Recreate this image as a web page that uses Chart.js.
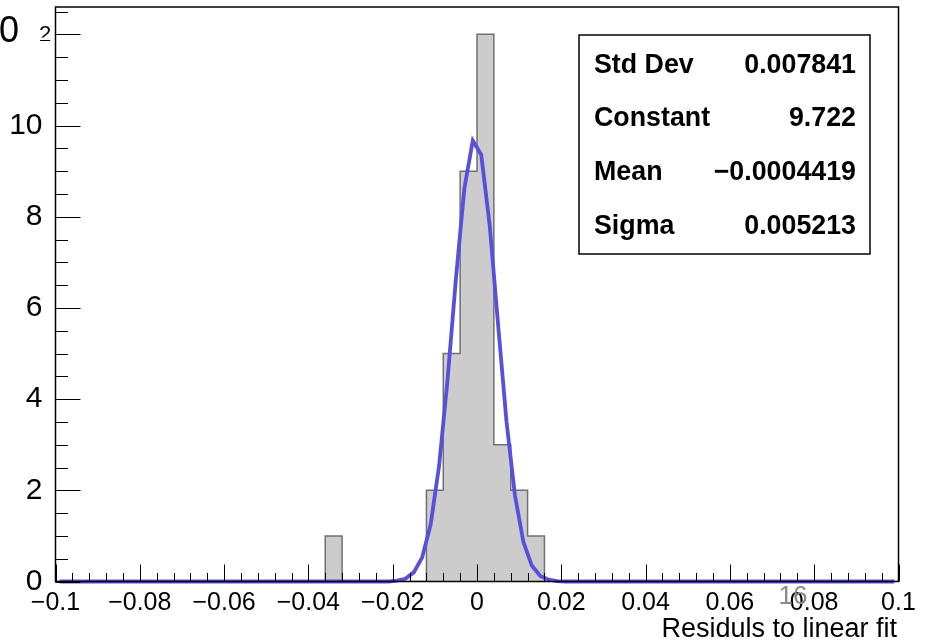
<!DOCTYPE html>
<html>
<head>
<meta charset="utf-8">
<script src="https://cdn.jsdelivr.net/npm/chart.js@4.4.1/dist/chart.umd.min.js"></script>
<style>
  html, body { margin: 0; padding: 0; background: #ffffff; }
  #wrap { width: 940px; height: 640px; position: relative; }
</style>
</head>
<body>
<div id="wrap"><canvas id="c" width="940" height="640"></canvas></div>
<script>
// ---- data ----
const xMin = -0.1, xMax = 0.1, binWidth = 0.004;
const yMin = 0, yMax = 12.6;
// histogram counts, 50 bins from -0.1 to 0.1
const counts = [0,0,0,0,0,0,0,0,0,0, 0,0,0,0,0,0,1,0,0,0, 0,0,2,5,9,12,3,2,1,0, 0,0,0,0,0,0,0,0,0,0, 0,0,0,0,0,0,0,0,0,0];
// gaussian fit curve, as drawn
const fitX = [-0.099,-0.023,-0.021,-0.019,-0.017,-0.015,-0.013,-0.011,-0.009,-0.007,-0.005,-0.003,-0.001,0.001,0.003,0.005,0.007,0.009,0.011,0.013,0.015,0.017,0.019,0.021,0.023,0.099];
const fitY = [0,0.00,0.00,0.02,0.06,0.20,0.53,1.25,2.53,4.41,6.64,8.62,9.67,9.36,7.82,5.64,3.51,1.89,0.87,0.35,0.12,0.04,0.01,0.00,0.00,0];
// tick labels
const xTickValues = [-0.1,-0.08,-0.06,-0.04,-0.02,0,0.02,0.04,0.06,0.08,0.1];
const xTickLabels = ['\u22120.1','\u22120.08','\u22120.06','\u22120.04','\u22120.02','0','0.02','0.04','0.06','0.08','0.1'];
const yTickValues = [0,2,4,6,8,10];
const yTickLabels = ['0','2','4','6','8','10'];
const xMinorStep = 0.004, yMinorStep = 0.5;
// stats box
const statNames = ['Std Dev','Constant','Mean','Sigma'];
const statValues = ['0.007841','9.722','\u22120.0004419','0.005213'];
const xTitle = 'Residuls to linear fit';

// ---- build datasets ----
const histPts = counts.map((c, i) => ({ x: xMin + i * binWidth, y: c }));
histPts.push({ x: xMax, y: 0 });
const fitPts = fitX.map((x, i) => ({ x: x, y: fitY[i] }));

const FONT = '"Liberation Sans", Arial, Helvetica, sans-serif';

const rootPlugin = {
  id: 'rootStyle',
  afterDatasetsDraw(chart) {
    const ctx = chart.ctx, a = chart.chartArea;
    const xs = chart.scales.x, ys = chart.scales.y;
    ctx.save();
    ctx.strokeStyle = '#000';
    ctx.lineWidth = 1;
    const nx = Math.round((xMax - xMin) / xMinorStep);
    for (let i = 0; i <= nx; i++) {
      const v = xMin + i * xMinorStep;
      const major = i % 5 === 0;
      const px = Math.round(xs.getPixelForValue(v)) + 0.5;
      const len = major ? 17 : 8.5;
      ctx.beginPath(); ctx.moveTo(px, a.bottom); ctx.lineTo(px, a.bottom - len); ctx.stroke();
    }
    const ny = Math.floor((yMax - yMin) / yMinorStep + 1e-9);
    for (let i = 0; i <= ny; i++) {
      const v = yMin + i * yMinorStep;
      const major = i % 4 === 0;
      const py = Math.round(ys.getPixelForValue(v)) + 0.5;
      const len = major ? 25 : 12.5;
      ctx.beginPath(); ctx.moveTo(a.left, py); ctx.lineTo(a.left + len, py); ctx.stroke();
    }
    ctx.lineWidth = 1.5;
    ctx.strokeRect(a.left, a.top, a.right - a.left, a.bottom - a.top);
    ctx.restore();
  },
  afterDraw(chart) {
    const ctx = chart.ctx;
    ctx.save();
    const bx = 579, by = 35, bw = 291, bh = 219;
    ctx.fillStyle = '#fff';
    ctx.fillRect(bx, by, bw, bh);
    ctx.strokeStyle = '#000';
    ctx.lineWidth = 1.5;
    ctx.strokeRect(bx, by, bw, bh);
    ctx.fillStyle = '#000';
    ctx.font = 'bold 26.8px ' + FONT;
    ctx.textBaseline = 'middle';
    const rowY = [66, 119, 173, 227];
    statNames.forEach((n, i) => {
      ctx.textAlign = 'left';
      ctx.fillText(n, 594, rowY[i]);
      ctx.textAlign = 'right';
      ctx.fillText(statValues[i], 856, rowY[i]);
    });
    ctx.font = '27px ' + FONT;
    ctx.textAlign = 'right';
    ctx.textBaseline = 'alphabetic';
    ctx.fillText(xTitle, 897, 637);
    ctx.fillStyle = '#8a8a8a';
    ctx.font = '26px ' + FONT;
    ctx.textAlign = 'center';
    ctx.textBaseline = 'middle';
    ctx.fillText('16', 793, 597);
    ctx.fillStyle = '#000';
    ctx.font = '36px ' + FONT;
    ctx.textAlign = 'left';
    ctx.fillText('0', -1, 32);
    ctx.font = '22px ' + FONT;
    ctx.fillText('2', 39, 35);
    ctx.fillStyle = '#fff';
    ctx.fillRect(38, 37.5, 12, 2.5);
    ctx.restore();
  }
};

new Chart(document.getElementById('c'), {
  type: 'scatter',
  data: {
    datasets: [
      {
        label: 'fit',
        data: fitPts,
        showLine: true,
        borderColor: '#5850dc',
        borderWidth: 3.8,
        pointRadius: 0,
        tension: 0,
        fill: false,
        clip: false,
        order: 0
      },
      {
        label: 'hist',
        data: histPts,
        showLine: true,
        stepped: 'before',
        borderColor: '#707070',
        borderWidth: 1.5,
        backgroundColor: '#cccccc',
        fill: 'origin',
        pointRadius: 0,
        order: 1
      }
    ]
  },
  options: {
    responsive: false,
    animation: false,
    events: [],
    layout: { padding: { left: 0, right: 41.5, top: 7, bottom: 0 } },
    plugins: { legend: { display: false }, tooltip: { enabled: false } },
    scales: {
      x: {
        type: 'linear', min: xMin, max: xMax,
        grid: { display: false }, border: { display: false },
        afterBuildTicks: s => { s.ticks = xTickValues.map(v => ({ value: v })); },
        afterFit: s => { s.height = 58.5; s.paddingLeft = 0; s.paddingRight = 0; },
        ticks: {
          autoSkip: false, maxRotation: 0, minRotation: 0, padding: -1,
          color: '#000', font: { family: FONT, size: 25 },
          callback: (v, i) => xTickLabels[i]
        }
      },
      y: {
        type: 'linear', min: yMin, max: yMax,
        grid: { display: false }, border: { display: false },
        afterBuildTicks: s => { s.ticks = yTickValues.map(v => ({ value: v })); },
        afterFit: s => { s.width = 55.5; s.paddingTop = 0; s.paddingBottom = 0; },
        ticks: {
          autoSkip: false, padding: 5, color: '#000',
          font: { family: FONT, size: 30 },
          callback: (v, i) => yTickLabels[i]
        }
      }
    }
  },
  plugins: [rootPlugin]
});
</script>
</body>
</html>
